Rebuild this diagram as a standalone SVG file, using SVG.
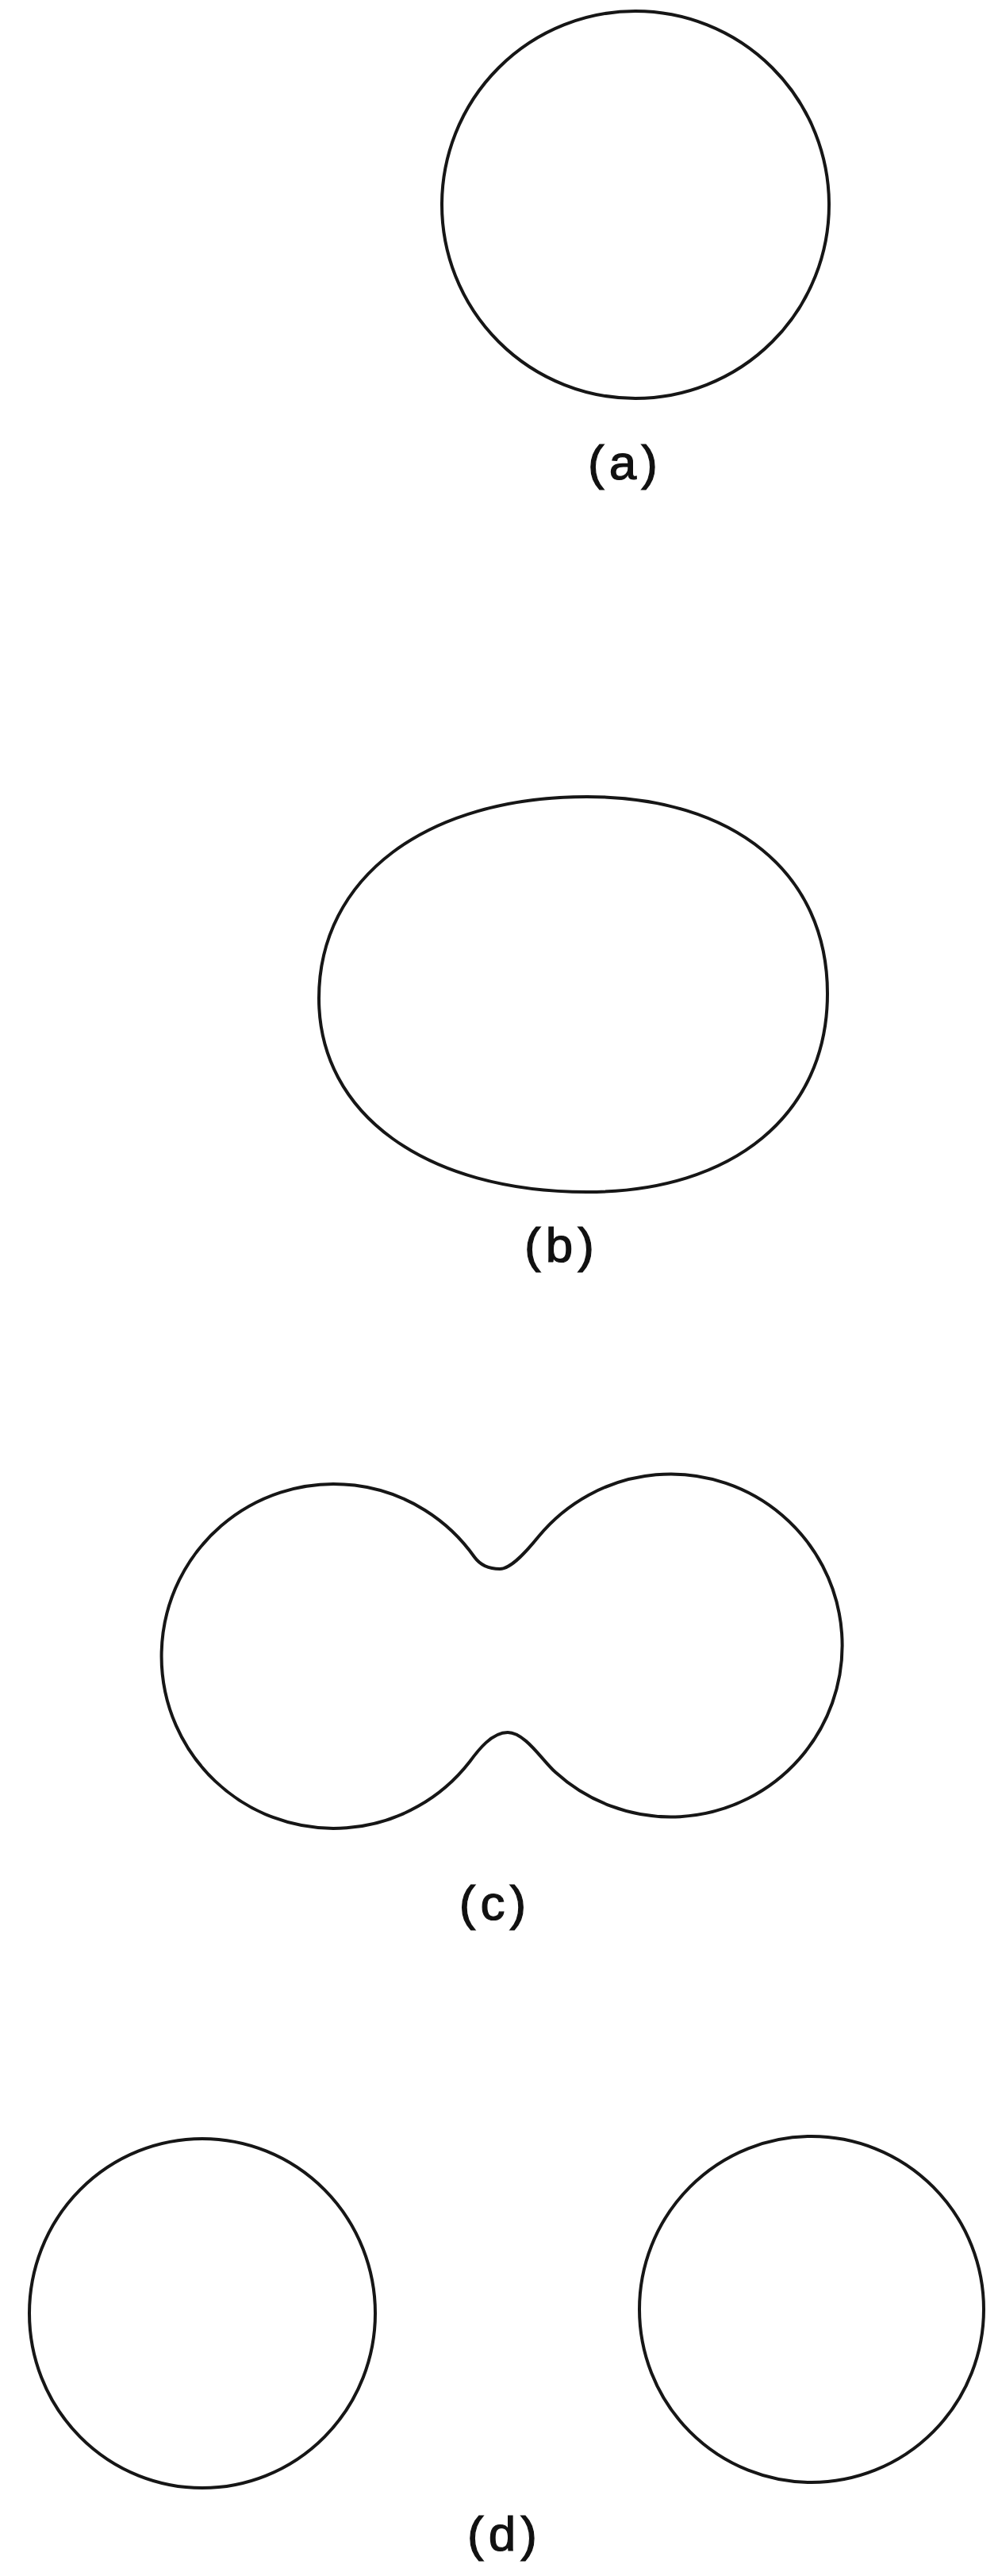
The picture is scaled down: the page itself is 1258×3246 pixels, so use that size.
<svg xmlns="http://www.w3.org/2000/svg" width="1258" height="3246" viewBox="0 0 1258 3246">
  <style>
    .shape { fill: none; stroke: #161616; stroke-width: 4; stroke-linejoin: round; }
    .label { font-family: "Liberation Sans", "DejaVu Sans", sans-serif; font-size: 62px; fill: #111111; stroke: #111111; stroke-width: 1.2; text-anchor: middle; letter-spacing: 6px; }
  </style>
  <rect x="0" y="0" width="1258" height="3246" fill="#ffffff"/>

  <g id="fig-a">
    <circle class="shape" cx="801" cy="258" r="244"/>
    <text class="label" x="788" y="604">(a)</text>
  </g>

  <g id="fig-b">
    <path class="shape" d="M 402 1258 C 402 1106, 537 1004, 740 1004 C 925 1004, 1043 1100, 1043 1252 C 1043 1404, 925 1502, 740 1502 C 537 1502, 402 1404, 402 1258 Z"/>
    <text class="label" x="708" y="1590">(b)</text>
  </g>

  <g id="fig-c">
    <path class="shape" d="M 598 1962 C 606 1973, 617 1977, 630 1977 C 645 1977, 666 1952, 679 1936 A 216 216 0 1 1 700 2233 C 684 2219, 662 2183, 640 2183 C 620 2183, 603 2205, 592 2220 A 217 217 0 1 1 598 1962 Z"/>
    <text class="label" x="624" y="2419">(c)</text>
  </g>

  <g id="fig-d">
    <ellipse class="shape" cx="255" cy="2915" rx="218" ry="220"/>
    <ellipse class="shape" cx="1023" cy="2910" rx="217" ry="218"/>
    <text class="label" x="636" y="3214">(d)</text>
  </g>
</svg>
